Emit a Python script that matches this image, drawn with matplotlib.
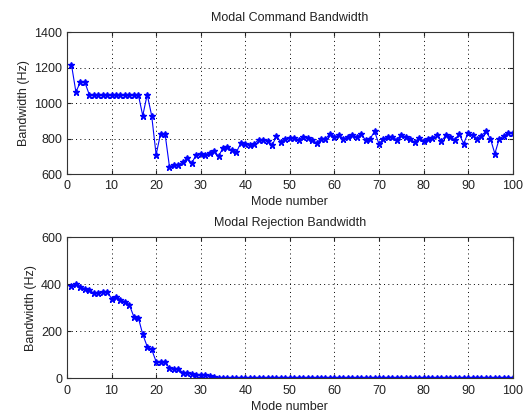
import numpy as np
import matplotlib
matplotlib.use("Agg")
import matplotlib.pyplot as plt

# mode numbers 1..100
modes = list(range(1, 101))

# Modal command bandwidth (Hz)
command_bw = [
    1219, 1064, 1119, 1119, 1049, 1049, 1049, 1049, 1049, 1049,
    1049, 1049, 1049, 1049, 1049, 1049, 930, 1049, 930, 709,
    828, 828, 640, 653, 653, 666, 690, 662, 709, 715,
    709, 719, 732, 700, 747, 751, 734, 723, 775, 770,
    762, 770, 794, 791, 789, 762, 813, 781, 798, 805,
    803, 794, 809, 804, 794, 775, 800, 798, 828, 809,
    819, 800, 809, 823, 809, 826, 791, 798, 841, 770,
    800, 809, 809, 794, 823, 809, 800, 779, 804, 785,
    800, 804, 823, 785, 819, 809, 794, 826, 772, 832,
    819, 800, 817, 841, 800, 715, 800, 813, 832, 832,
]

# Modal rejection bandwidth (Hz)
rejection_bw = [
    393, 403, 390, 381, 376, 362, 364, 369, 369, 339,
    347, 333, 326, 312, 262, 258, 187, 135, 123, 71,
    69, 69, 43, 38, 41, 24, 24, 20, 14, 14,
    13, 10, 5,
] + [0] * 67

cmd_yticks = [600, 800, 1000, 1200, 1400]
rej_yticks = [0, 200, 400, 600]
xticks = list(range(0, 101, 10))

plt.rcParams['font.family'] = ['Liberation Sans', 'DejaVu Sans']
plt.rcParams['font.size'] = 9

fig = plt.figure(figsize=(5.27, 4.15), dpi=100)
ax1 = fig.add_axes([0.1271, 0.5807, 0.8457, 0.3410])
ax2 = fig.add_axes([0.1271, 0.0884, 0.8457, 0.3400])

def style(ax, yticks, title):
    ax.set_xlim(0, 100)
    ax.set_ylim(yticks[0], yticks[-1])
    ax.set_xticks(xticks)
    ax.set_yticks(yticks)
    ax.grid(True, linestyle=(0, (1, 3.4)), color='black', linewidth=0.7)
    ax.tick_params(direction='in', top=True, right=True, length=3,
                   labelsize=9, colors='#222222')
    ax.tick_params(axis='x', pad=4.5)
    ax.set_xlabel("Mode number", fontsize=9, labelpad=3, color='#222222')
    ax.set_ylabel("Bandwidth (Hz)", fontsize=9, labelpad=3, color='#222222')
    ax.set_title(title, fontsize=9, pad=8, color='#222222')
    for s in ax.spines.values():
        s.set_linewidth(0.8)
        s.set_color('#333333')

ax1.plot(modes, command_bw, '-*', color='blue', markersize=4.5, linewidth=0.8)
style(ax1, cmd_yticks, "Modal Command Bandwidth")

ax2.plot(modes, rejection_bw, '-*', color='blue', markersize=4.5, linewidth=0.8)
style(ax2, rej_yticks, "Modal Rejection Bandwidth")

fig.savefig("out.png", dpi=100)
